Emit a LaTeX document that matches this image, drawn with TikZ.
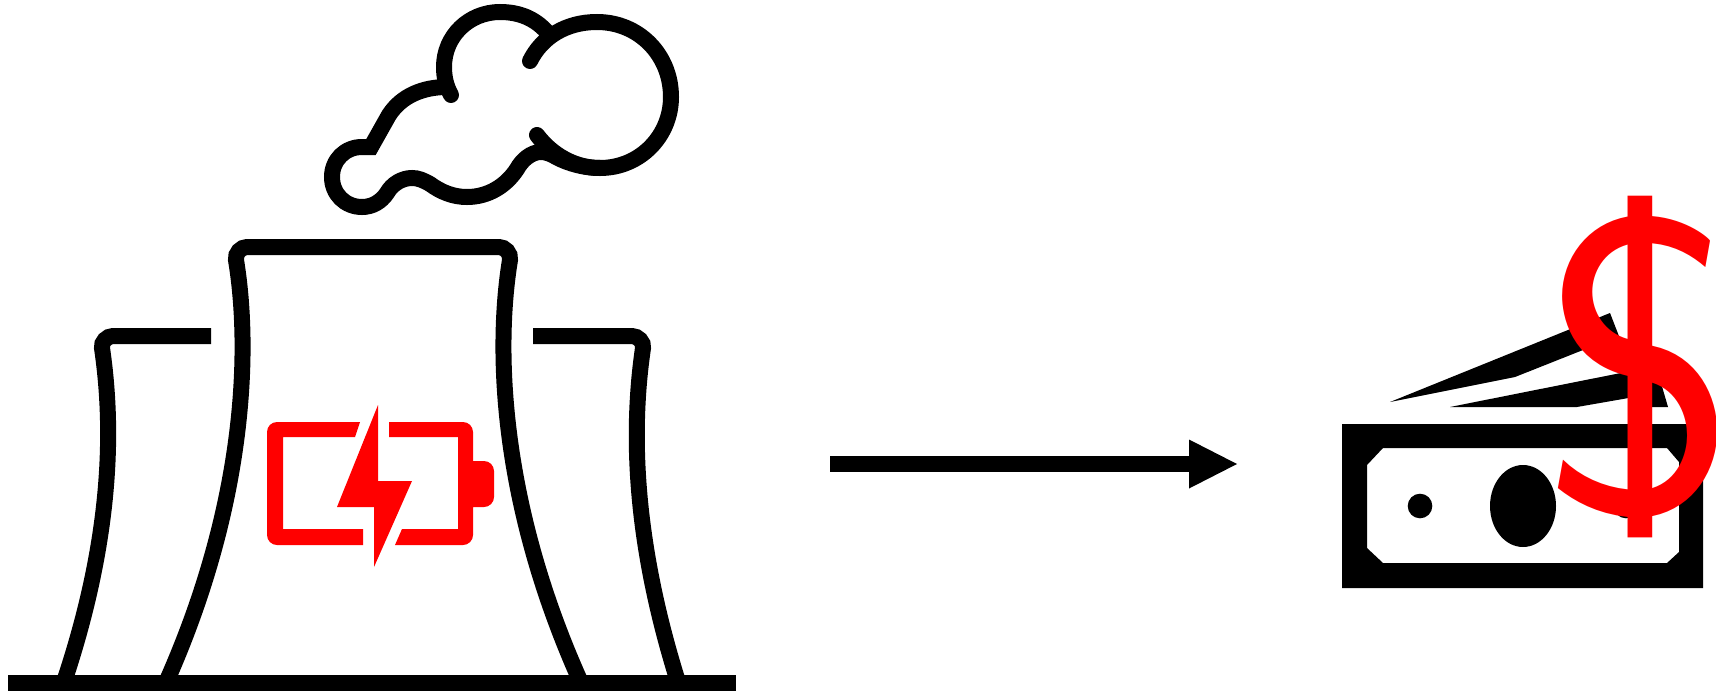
\documentclass[tikz,border=0pt]{standalone}
\usepackage{fontspec}
\usepackage{xcolor}
\usetikzlibrary{arrows.meta}
\definecolor{plantRed}{RGB}{255,0,0}
\tikzset{
  plantline/.style={black,line width=16pt},
  smokeline/.style={black,line width=16pt,line cap=round},
}
\begin{document}
\begin{tikzpicture}[x=1pt,y=-1pt]
  \useasboundingbox (0,0) rectangle (1716,691);
  % cooling towers
  \draw[plantline] (211,336)--(113,336) .. controls (107,336) and (101,342) .. (102,348)
     .. controls (114,430) and (112,540) .. (63,685);
  \draw[plantline] (372,247)--(247,247) .. controls (241,247) and (235,253) .. (236,260)
     .. controls (250,345) and (248,500) .. (165,685);
  \draw[plantline] (533,336)--(632,336) .. controls (638,336) and (644,342) .. (643,348)
     .. controls (631,430) and (633,540) .. (679,685);
  \draw[plantline] (372,247)--(499,247) .. controls (505,247) and (511,253) .. (510,260)
     .. controls (496,345) and (498,500) .. (582,685);
  \draw[plantline] (8,683)--(736,683);
  % smoke
  \draw[smokeline] (530,61) .. controls (542,37) and (566,22) .. (597,22)
     .. controls (639,22) and (671,55) .. (671,97)
     .. controls (671,136) and (640,168) .. (600,168)
     .. controls (575,168) and (552,155) .. (537,135);
  \draw[smokeline] (451,95) .. controls (446,86) and (444,77) .. (444,67)
     .. controls (444,36) and (469,12) .. (500,12)
     .. controls (520,12) and (535,19) .. (546,31);
  \draw[plantline,miter limit=10] (447,87) .. controls (424,87) and (402,95) .. (389,115)
     -- (371,147) .. controls (367,147) and (364,147) .. (362,147)
     .. controls (345,147) and (332,160) .. (332,177)
     .. controls (332,194) and (345,207) .. (362,207)
     .. controls (372,207) and (381,202) .. (387,193)
     .. controls (392,184) and (402,178) .. (412,178)
     .. controls (418,178) and (423,180) .. (430,184)
     .. controls (441,192) and (453,197) .. (467,197)
     .. controls (488,197) and (506,186) .. (517,169)
     .. controls (522,160) and (531,152) .. (541,152)
     .. controls (546,152) and (551,154) .. (556,157)
     .. controls (569,164) and (585,168) .. (600,168);
  % battery
  \fill[plantRed] (360,422) [rounded corners=10pt] -- (267,422) -- (267,545) [sharp corners]
     -- (363,545) -- (363,529) -- (283,529) -- (283,437) -- (355,437) -- cycle;
  \fill[plantRed] (389,422) [rounded corners=10pt] -- (473,422) [sharp corners] -- (473,461)
     [rounded corners=10pt] -- (494,461) -- (494,507) [sharp corners] -- (473,507)
     [rounded corners=10pt] -- (473,545) [sharp corners] -- (395,545) -- (402,529)
     -- (458,529) -- (458,437) -- (389,437) -- cycle;
  \fill[plantRed] (378,405) -- (378,481) -- (412,481) -- (374,567) -- (374,507) -- (337,507) -- cycle;
  % arrow
  \coordinate (arrowstart) at (830,464);
  \coordinate (arrowend) at (1237,464);
  \draw[line width=16pt,-{Triangle[length=48pt,width=49pt,line width=0pt]}] (arrowstart)--(arrowend);
  % banknotes
  \fill[black] (1390,402)--(1610,313)--(1622,344)--(1583,350)--(1515,377)--cycle;
  \fill[black] (1450,407)--(1656,366)--(1668,407)--(1640,407)--(1640,396)--(1577,407)--cycle;
  \fill[black,even odd rule] (1342,424) rectangle (1703,588)
     (1383,448)--(1367,465)--(1367,548)--(1383,563)--(1667,563)--(1679,552)--(1679,462)--(1667,448)--cycle;
  \fill[black] (1420,506) circle[radius=12.3];
  \fill[black] (1626,506) circle[radius=12.3];
  \fill[black] (1523,506) ellipse[x radius=33,y radius=41];
  % dollar sign
  \node[anchor=base,inner sep=0pt,text=plantRed,font=\sffamily\fontsize{425}{425}\selectfont] (dollar) at (1640,514) {\$};
\end{tikzpicture}
\end{document}
